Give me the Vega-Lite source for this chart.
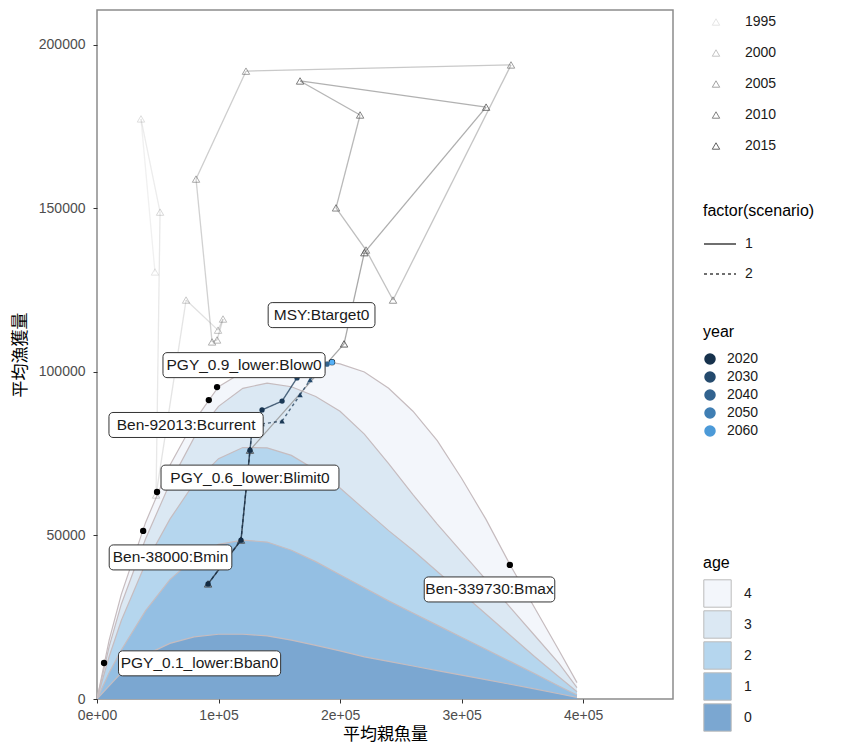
{
  "$schema": "https://vega.github.io/schema/vega-lite/v6.json",
  "width": 576,
  "height": 689,
  "autosize": {"type": "none"},
  "padding": {"left": 97, "top": 10, "right": 169, "bottom": 50},
  "background": "white",
  "config": {
    "view": {"stroke": "#8c8c8c", "strokeWidth": 1.5},
    "axis": {"domain": false, "grid": false, "labelFlush": false, "tickColor": "#333333", "tickSize": 4, "labelColor": "#4d4d4d", "labelFont": "Liberation Sans", "labelFontSize": 14, "titleFont": "Noto Sans CJK JP", "titleFontSize": 16, "titleColor": "#000000", "titleFontWeight": "normal"},
    "legend": {"labelFont": "Liberation Sans", "labelFontSize": 14, "labelColor": "#1a1a1a", "titleFont": "Liberation Sans", "titleFontSize": 16, "titleFontWeight": "normal", "titleColor": "#000000", "padding": 0}
  },
  "datasets": {
    "curve": [
      {"b":0,"age":4,"cum":0},{"b":10000,"age":4,"cum":18000},{"b":20000,"age":4,"cum":32000},{"b":40000,"age":4,"cum":54000},{"b":60000,"age":4,"cum":71500},{"b":80000,"age":4,"cum":85000},{"b":100000,"age":4,"cum":95500},{"b":120000,"age":4,"cum":100000},{"b":140000,"age":4,"cum":102300},{"b":160000,"age":4,"cum":103300},{"b":180000,"age":4,"cum":103500},{"b":200000,"age":4,"cum":102500},{"b":220000,"age":4,"cum":100000},{"b":240000,"age":4,"cum":95000},{"b":260000,"age":4,"cum":88000},{"b":280000,"age":4,"cum":79000},{"b":300000,"age":4,"cum":67500},{"b":320000,"age":4,"cum":55000},{"b":340000,"age":4,"cum":41000},{"b":360000,"age":4,"cum":28000},{"b":380000,"age":4,"cum":15000},{"b":395000,"age":4,"cum":5000},
      {"b":0,"age":3,"cum":0},{"b":10000,"age":3,"cum":16000},{"b":20000,"age":3,"cum":29000},{"b":40000,"age":3,"cum":49000},{"b":60000,"age":3,"cum":66000},{"b":80000,"age":3,"cum":80000},{"b":100000,"age":3,"cum":89500},{"b":120000,"age":3,"cum":95000},{"b":140000,"age":3,"cum":96600},{"b":160000,"age":3,"cum":95500},{"b":180000,"age":3,"cum":92500},{"b":200000,"age":3,"cum":88000},{"b":220000,"age":3,"cum":81000},{"b":240000,"age":3,"cum":72000},{"b":260000,"age":3,"cum":62500},{"b":280000,"age":3,"cum":53500},{"b":300000,"age":3,"cum":45000},{"b":320000,"age":3,"cum":36500},{"b":340000,"age":3,"cum":28000},{"b":360000,"age":3,"cum":19500},{"b":380000,"age":3,"cum":11000},{"b":395000,"age":3,"cum":3500},
      {"b":0,"age":2,"cum":0},{"b":10000,"age":2,"cum":13000},{"b":20000,"age":2,"cum":24000},{"b":40000,"age":2,"cum":41500},{"b":60000,"age":2,"cum":55000},{"b":80000,"age":2,"cum":66000},{"b":100000,"age":2,"cum":73500},{"b":120000,"age":2,"cum":76900},{"b":140000,"age":2,"cum":76800},{"b":160000,"age":2,"cum":74500},{"b":180000,"age":2,"cum":70000},{"b":200000,"age":2,"cum":64500},{"b":220000,"age":2,"cum":58000},{"b":240000,"age":2,"cum":51500},{"b":260000,"age":2,"cum":45500},{"b":280000,"age":2,"cum":39000},{"b":300000,"age":2,"cum":32500},{"b":320000,"age":2,"cum":26000},{"b":340000,"age":2,"cum":19500},{"b":360000,"age":2,"cum":13000},{"b":380000,"age":2,"cum":6800},{"b":395000,"age":2,"cum":2200},
      {"b":0,"age":1,"cum":0},{"b":10000,"age":1,"cum":8000},{"b":20000,"age":1,"cum":15000},{"b":40000,"age":1,"cum":27000},{"b":60000,"age":1,"cum":36500},{"b":80000,"age":1,"cum":43000},{"b":100000,"age":1,"cum":47300},{"b":120000,"age":1,"cum":48600},{"b":140000,"age":1,"cum":48000},{"b":160000,"age":1,"cum":45500},{"b":180000,"age":1,"cum":42000},{"b":200000,"age":1,"cum":38000},{"b":220000,"age":1,"cum":34000},{"b":240000,"age":1,"cum":30000},{"b":260000,"age":1,"cum":26300},{"b":280000,"age":1,"cum":22600},{"b":300000,"age":1,"cum":18900},{"b":320000,"age":1,"cum":15200},{"b":340000,"age":1,"cum":11500},{"b":360000,"age":1,"cum":7800},{"b":380000,"age":1,"cum":4000},{"b":395000,"age":1,"cum":1200},
      {"b":0,"age":0,"cum":0},{"b":10000,"age":0,"cum":4000},{"b":20000,"age":0,"cum":8000},{"b":40000,"age":0,"cum":13500},{"b":60000,"age":0,"cum":17000},{"b":80000,"age":0,"cum":19000},{"b":100000,"age":0,"cum":19800},{"b":120000,"age":0,"cum":19800},{"b":140000,"age":0,"cum":19300},{"b":160000,"age":0,"cum":18000},{"b":180000,"age":0,"cum":16400},{"b":200000,"age":0,"cum":14700},{"b":220000,"age":0,"cum":12900},{"b":240000,"age":0,"cum":11500},{"b":260000,"age":0,"cum":10100},{"b":280000,"age":0,"cum":8700},{"b":300000,"age":0,"cum":7300},{"b":320000,"age":0,"cum":5900},{"b":340000,"age":0,"cum":4500},{"b":360000,"age":0,"cum":3100},{"b":380000,"age":0,"cum":1600},{"b":395000,"age":0,"cum":500}
    ],
    "hist": [
      {"year":1995,"b":47700,"c":130600},{"year":1996,"b":36200,"c":177400},{"year":1997,"b":51900,"c":148900},{"year":1998,"b":48600,"c":62400},{"year":1999,"b":73300,"c":122000},{"year":2000,"b":99600,"c":112800},{"year":2001,"b":103700,"c":116200},{"year":2002,"b":98800,"c":109800},{"year":2003,"b":94700,"c":109200},{"year":2004,"b":81500,"c":159000},{"year":2005,"b":122600,"c":192000},{"year":2006,"b":340700,"c":193900},{"year":2007,"b":243600,"c":122000},{"year":2008,"b":221400,"c":137300},{"year":2009,"b":196700,"c":150200},{"year":2010,"b":216500,"c":178600},{"year":2011,"b":167100,"c":189000},{"year":2012,"b":320200,"c":181000},{"year":2013,"b":220000,"c":136500},{"year":2014,"b":203300,"c":108600},{"year":2015,"b":125900,"c":76100},{"year":2016,"b":118500,"c":48600},{"year":2017,"b":91400,"c":35200}
    ],
    "proj": [
      {"scenario":"1","pyear":2017,"b":91400,"c":35200},{"scenario":"1","pyear":2018,"b":118500,"c":48600},{"scenario":"1","pyear":2019,"b":125900,"c":76100},{"scenario":"1","pyear":2020,"b":127600,"c":82500},{"scenario":"1","pyear":2021,"b":135800,"c":88400},{"scenario":"1","pyear":2023,"b":152300,"c":91100},{"scenario":"1","pyear":2026,"b":164600,"c":98200},{"scenario":"1","pyear":2030,"b":179400,"c":101200},{"scenario":"1","pyear":2040,"b":189300,"c":102400},{"scenario":"1","pyear":2068,"b":193400,"c":103000},
      {"scenario":"2","pyear":2017,"b":91400,"c":35200},{"scenario":"2","pyear":2018,"b":118500,"c":48600},{"scenario":"2","pyear":2019,"b":125900,"c":76100},{"scenario":"2","pyear":2020,"b":127600,"c":82000},{"scenario":"2","pyear":2021,"b":135800,"c":84100},{"scenario":"2","pyear":2023,"b":152300,"c":85000},{"scenario":"2","pyear":2026,"b":167100,"c":93000},{"scenario":"2","pyear":2030,"b":175300,"c":97600},{"scenario":"2","pyear":2040,"b":185200,"c":101200},{"scenario":"2","pyear":2068,"b":193400,"c":103000}
    ],
    "refs": [
      {"label":"PGY_0.1_lower:Bban0","b":5800,"c":11000,"lb":84400,"lc":10900},
      {"label":"Ben-38000:Bmin","b":38000,"c":51400,"lb":60500,"lc":43300},
      {"label":"PGY_0.6_lower:Blimit0","b":49400,"c":63300,"lb":125900,"lc":67700},
      {"label":"Ben-92013:Bcurrent","b":92013,"c":91400,"lb":73300,"lc":83800},
      {"label":"PGY_0.9_lower:Blow0","b":98800,"c":95400,"lb":121000,"lc":102100},
      {"label":"MSY:Btarget0","b":193400,"c":103000,"lb":184800,"lc":117400},
      {"label":"Ben-339730:Bmax","b":339730,"c":41000,"lb":323000,"lc":33500}
    ]
  },
  "layer": [
    {
      "data": {"name": "curve"},
      "mark": {"type": "area", "clip": true},
      "encoding": {
        "x": {"field": "b", "type": "quantitative", "scale": {"domain": [0, 474000], "nice": false, "zero": false},
              "axis": {"values": [0,100000,200000,300000,400000], "labelExpr": "datum.value == 0 ? '0e+00' : format(datum.value/100000, 'd') + 'e+05'", "title": "平均親魚量", "labelPadding": 5, "titlePadding": 4, "titleFontSize": 17}},
        "y": {"field": "cum", "type": "quantitative", "stack": null, "scale": {"domain": [0, 210700], "nice": false, "zero": false},
              "axis": {"values": [0,50000,100000,150000,200000], "format": "d", "title": "平均漁獲量", "labelPadding": 8, "titlePadding": 9, "titleFontSize": 17}},
        "fill": {"field": "age", "type": "ordinal", "scale": {"domain": [4,3,2,1,0], "range": ["#f3f6fb","#dbe8f3","#b5d6ee","#94bfe3","#7ba7d1"]},
                 "legend": {"title": "age", "orient": "none", "legendX": 606, "legendY": 545, "direction": "vertical", "symbolType": "square", "symbolSize": 750, "symbolStrokeColor": "#bbbbbb", "symbolStrokeWidth": 1, "rowPadding": -2, "labelOffset": 12, "titlePadding": 8}}
      }
    },
    {
      "data": {"name": "curve"},
      "mark": {"type": "line", "stroke": "#c6bcbf", "strokeWidth": 1.2, "clip": true},
      "encoding": {
        "x": {"field": "b", "type": "quantitative"},
        "y": {"field": "cum", "type": "quantitative"},
        "detail": {"field": "age", "type": "nominal"}
      }
    },
    {
      "data": {"name": "hist"},
      "transform": [
        {"window": [{"op": "lead", "field": "b", "as": "b2"}, {"op": "lead", "field": "c", "as": "c2"}], "sort": [{"field": "year"}]},
        {"filter": "datum.b2 != null"}
      ],
      "mark": {"type": "rule", "stroke": "#9a9a9a", "strokeWidth": 1.3},
      "encoding": {
        "x": {"field": "b", "type": "quantitative"},
        "y": {"field": "c", "type": "quantitative"},
        "x2": {"field": "b2"},
        "y2": {"field": "c2"},
        "opacity": {"field": "year", "type": "quantitative", "scale": {"domain": [1995, 2017], "range": [0.15, 1]},
                    "legend": {"title": null, "orient": "none", "legendX": 612, "legendY": 5, "direction": "vertical", "values": [1995,2000,2005,2010,2015], "format": "d", "symbolType": "triangle-up", "symbolSize": 55, "symbolFillColor": "transparent", "symbolStrokeColor": "#555555", "symbolStrokeWidth": 1, "rowPadding": 17, "labelOffset": 22}}
      }
    },
    {
      "data": {"name": "hist"},
      "mark": {"type": "point", "shape": "triangle-up", "filled": false, "stroke": "#555555", "strokeWidth": 1, "size": 55},
      "encoding": {
        "x": {"field": "b", "type": "quantitative"},
        "y": {"field": "c", "type": "quantitative"},
        "opacity": {"field": "year", "type": "quantitative",
                    "legend": {"title": null, "orient": "none", "legendX": 612, "legendY": 5, "direction": "vertical", "values": [1995,2000,2005,2010,2015], "format": "d", "symbolType": "triangle-up", "symbolSize": 55, "symbolFillColor": "transparent", "symbolStrokeColor": "#555555", "symbolStrokeWidth": 1, "rowPadding": 17, "labelOffset": 22}}
      }
    },
    {
      "data": {"name": "refs"},
      "mark": {"type": "point", "filled": true, "color": "#000000", "size": 40, "opacity": 1},
      "encoding": {
        "x": {"field": "b", "type": "quantitative"},
        "y": {"field": "c", "type": "quantitative"}
      }
    },
    {
      "data": {"name": "proj"},
      "transform": [
        {"window": [{"op": "lead", "field": "b", "as": "b2"}, {"op": "lead", "field": "c", "as": "c2"}], "groupby": ["scenario"], "sort": [{"field": "pyear"}]},
        {"filter": "datum.b2 != null"}
      ],
      "mark": {"type": "rule", "strokeWidth": 1.4, "opacity": 0.75},
      "encoding": {
        "x": {"field": "b", "type": "quantitative"},
        "y": {"field": "c", "type": "quantitative"},
        "x2": {"field": "b2"},
        "y2": {"field": "c2"},
        "stroke": {"field": "pyear", "type": "quantitative", "scale": {"domain": [2017, 2068], "range": ["#132B43", "#56B1F7"]},
                  "legend": {"type": "gradient", "title": "year", "orient": "none", "legendX": 606, "legendY": 314, "direction": "vertical", "gradientLength": 154, "gradientThickness": 30, "values": [2020,2030,2040,2050,2060], "format": "d", "labelOffset": 10, "titlePadding": 12}},
        "strokeDash": {"field": "scenario", "type": "nominal", "scale": {"domain": ["1","2"], "range": [[1,0],[3,3]]},
                       "legend": {"title": "factor(scenario)", "orient": "none", "legendX": 606, "legendY": 193, "direction": "vertical", "symbolType": "stroke", "symbolStrokeColor": "#000000", "symbolStrokeWidth": 1.5, "symbolSize": 1024, "rowPadding": 6, "labelOffset": 8, "titlePadding": 8}}
      }
    },
    {
      "data": {"name": "proj"},
      "transform": [{"filter": "datum.scenario == '1'"}],
      "mark": {"type": "point", "shape": "circle", "filled": true, "size": 28, "opacity": 1},
      "encoding": {
        "x": {"field": "b", "type": "quantitative"},
        "y": {"field": "c", "type": "quantitative"},
        "color": {"field": "pyear", "type": "quantitative", "scale": {"domain": [2017, 2068], "range": ["#132B43", "#56B1F7"]}, "legend": null}
      }
    },
    {
      "data": {"name": "proj"},
      "transform": [{"filter": "datum.scenario == '2'"}],
      "mark": {"type": "point", "shape": "triangle-up", "filled": true, "size": 30, "opacity": 1},
      "encoding": {
        "x": {"field": "b", "type": "quantitative"},
        "y": {"field": "c", "type": "quantitative"},
        "color": {"field": "pyear", "type": "quantitative", "legend": null}
      }
    },
    {
      "data": {"name": "refs"},
      "transform": [
        {"calculate": "length(datum.label) * 3.95 + 6", "as": "hw"},
        {"calculate": "datum.lb - datum.hw * 823.05", "as": "x1"},
        {"calculate": "datum.lb + datum.hw * 823.05", "as": "x2"},
        {"calculate": "datum.lc - 12.5 * 305.81", "as": "y1"},
        {"calculate": "datum.lc + 12.5 * 305.81", "as": "y2"}
      ],
      "mark": {"type": "rect", "fill": "white", "stroke": "#333333", "strokeWidth": 1, "cornerRadius": 4},
      "encoding": {
        "x": {"field": "x1", "type": "quantitative"},
        "x2": {"field": "x2"},
        "y": {"field": "y1", "type": "quantitative"},
        "y2": {"field": "y2"}
      }
    },
    {
      "data": {"name": "refs"},
      "mark": {"type": "text", "font": "Liberation Sans", "fontSize": 15.5, "color": "#1a1a1a", "align": "center", "baseline": "middle"},
      "encoding": {
        "x": {"field": "lb", "type": "quantitative"},
        "y": {"field": "lc", "type": "quantitative"},
        "text": {"field": "label", "type": "nominal"}
      }
    }
  ]
}
